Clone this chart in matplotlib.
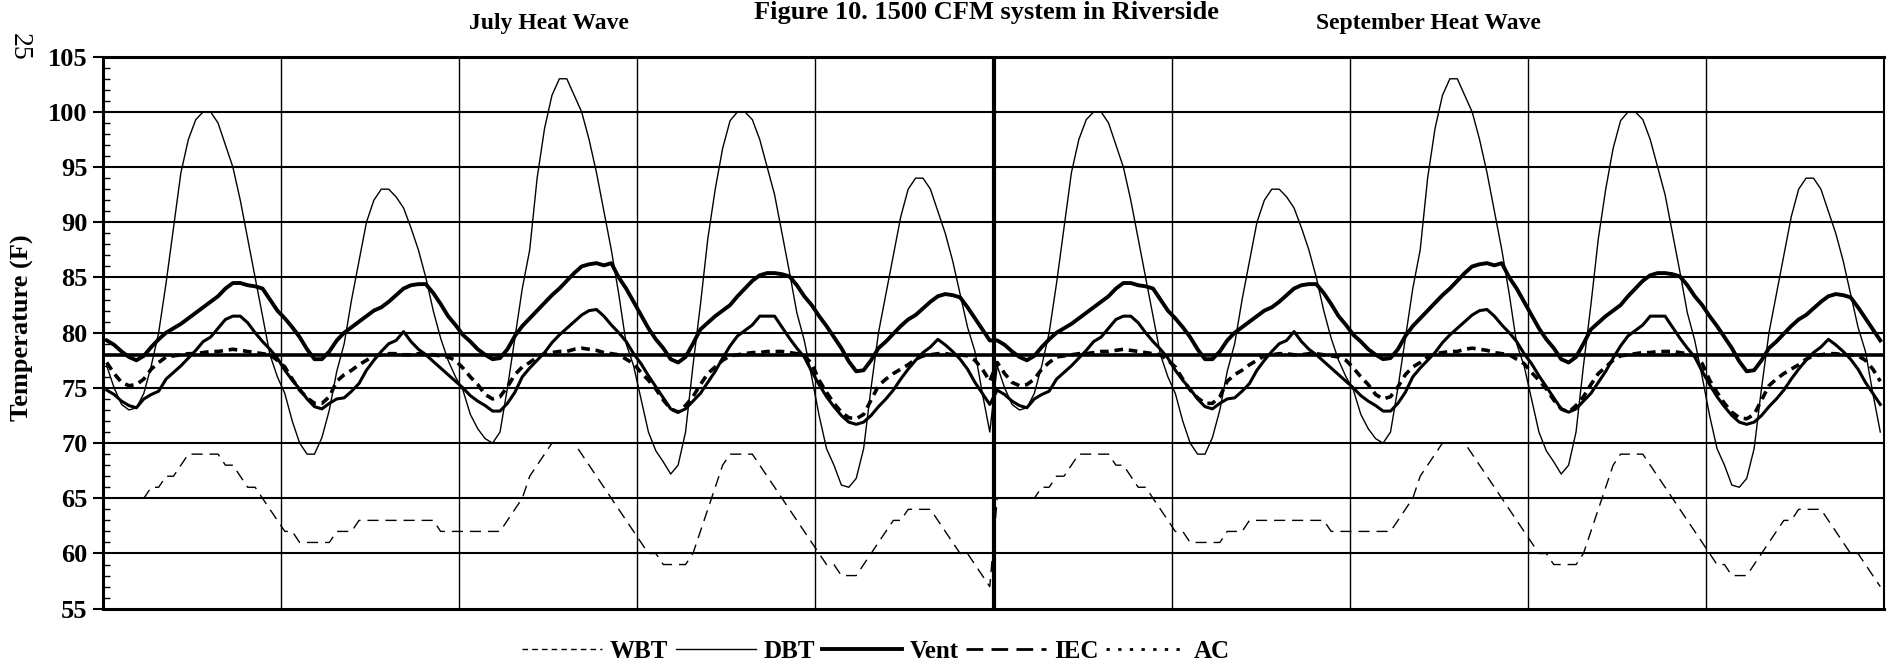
import numpy as np
import matplotlib
matplotlib.use("Agg")
import matplotlib.pyplot as plt
from matplotlib.lines import Line2D

plt.rcParams['font.family'] = ['Liberation Serif', 'DejaVu Serif']

# ---------------- data (hourly) ----------------
title = "Figure 10. 1500 CFM system in Riverside"
wave_labels = ["July Heat Wave", "September Heat Wave"]
y_ticks = [55, 60, 65, 70, 75, 80, 85, 90, 95, 100, 105]
setpoint = 78

july_dbt = [77, 75, 73.5, 73, 73.2, 74.5, 77, 80, 84.5, 89.5, 94.5, 97.5, 99.3, 100, 100, 99, 97, 95, 92, 88.5, 85, 81.5, 78, 76,
            74.5, 72, 70, 69, 69, 70.5, 73, 76.5, 79, 83, 86.5, 90, 92, 93, 93, 92.3, 91.3, 89.5, 87.5, 85, 82, 79.5, 77.5, 76,
            74.8, 72.6, 71.3, 70.4, 70, 71, 75, 79.5, 84, 87.5, 94, 98.5, 101.5, 103, 103, 101.5, 100, 97.5, 94.5, 91, 87.5, 83.5, 79, 77,
            74, 71, 69.3, 68.3, 67.2, 68, 71, 77, 82.5, 88.5, 93, 96.7, 99.2, 100, 100, 99.3, 97.5, 95, 92.5, 89, 85.5, 81.8, 79.3, 76,
            72.5, 69.5, 68, 66.2, 66, 66.8, 69.5, 75, 80, 83.5, 87, 90.5, 93, 94, 94, 93, 91, 89, 86.5, 83.5, 80.5, 78.3, 74.5, 71]
july_wbt = [65, 65, 65, 65, 65, 65, 66, 66, 67, 67, 68, 69, 69, 69, 69, 69, 68, 68, 67, 66, 66, 65, 64, 63,
            62, 62, 61, 61, 61, 61, 61, 62, 62, 62, 63, 63, 63, 63, 63, 63, 63, 63, 63, 63, 63, 62, 62, 62,
            62, 62, 62, 62, 62, 62, 63, 64, 65, 67, 68, 69, 70, 70, 70, 70, 69, 68, 67, 66, 65, 64, 63, 62,
            61, 60, 60, 59, 59, 59, 59, 60, 62, 64, 66, 68, 69, 69, 69, 69, 68, 67, 66, 65, 64, 63, 62, 61,
            60, 59, 59, 58, 58, 58, 59, 60, 61, 62, 63, 63, 64, 64, 64, 64, 63, 62, 61, 60, 60, 59, 58, 57]
july_vent = [79.3, 78.9, 78.3, 77.8, 77.5, 77.9, 78.7, 79.4, 80, 80.4, 80.8, 81.3, 81.8, 82.3, 82.8, 83.3, 84, 84.5, 84.5, 84.3, 84.2, 84, 83, 82,
             81.3, 80.5, 79.6, 78.5, 77.6, 77.6, 78.3, 79.3, 80, 80.5, 81, 81.5, 82, 82.3, 82.8, 83.4, 84, 84.3, 84.4, 84.4, 83.6, 82.6, 81.5, 80.7,
             79.8, 79.2, 78.5, 78, 77.6, 77.7, 78.5, 79.7, 80.6, 81.3, 82, 82.7, 83.4, 84, 84.7, 85.4, 86, 86.2, 86.3, 86.1, 86.3, 85, 84, 82.8,
             81.6, 80.4, 79.4, 78.6, 77.6, 77.3, 77.8, 79, 80.3, 80.9, 81.5, 82, 82.5, 83.3, 84, 84.7, 85.2, 85.4, 85.4, 85.3, 85.1, 84.3, 83.3, 82.5,
             81.5, 80.6, 79.6, 78.6, 77.4, 76.5, 76.6, 77.5, 78.6, 79.2, 79.9, 80.6, 81.2, 81.6, 82.2, 82.8, 83.3, 83.5, 83.4, 83.2, 82.3, 81.3, 80.3, 79.3]
july_iec = [74.8, 74.4, 73.8, 73.4, 73.2, 74, 74.4, 74.7, 75.8, 76.4, 77, 77.7, 78.4, 79.2, 79.6, 80.4, 81.2, 81.5, 81.5, 80.9, 80, 79.2, 78.5, 77.7,
            76.6, 75.7, 74.9, 74, 73.3, 73.1, 73.6, 74, 74.1, 74.7, 75.4, 76.6, 77.5, 78.3, 79, 79.3, 80.1, 79.2, 78.5, 78, 77.4, 76.8, 76.2, 75.6,
            75, 74.3, 73.8, 73.4, 72.9, 72.9, 73.6, 74.6, 76, 76.8, 77.5, 78.2, 79.1, 79.8, 80.4, 81, 81.6, 82, 82.1, 81.5, 80.7, 80, 79.2, 78.1,
            77.2, 76.1, 75.1, 74.1, 73.1, 72.8, 73.1, 73.8, 74.5, 75.5, 76.5, 77.7, 78.8, 79.7, 80.2, 80.7, 81.5, 81.5, 81.5, 80.5, 79.5, 78.6, 77.8, 76.5,
            75.3, 74.2, 73.3, 72.5, 71.9, 71.7, 71.9, 72.5, 73.3, 74, 74.8, 75.8, 76.7, 77.5, 78.2, 78.7, 79.4, 78.9, 78.3, 77.6, 76.7, 75.5, 74.5, 73.5]
july_ac = [77.3, 76.3, 75.5, 75.2, 75.3, 75.8, 76.7, 77.3, 77.8, 77.9, 78, 78.1, 78.1, 78.2, 78.3, 78.3, 78.4, 78.5, 78.4, 78.3, 78.2, 78.1, 78, 77.5,
           76.9, 75.8, 74.8, 74.1, 73.6, 73.6, 74.2, 75.6, 76.2, 76.6, 77.1, 77.5, 77.9, 78, 78.1, 78.1, 78, 78, 78.1, 78.1, 78, 77.9, 77.8, 77.5,
           76.8, 76, 75.3, 74.4, 74, 74.2, 75.1, 76.2, 76.9, 77.3, 77.8, 78.1, 78.2, 78.3, 78.3, 78.5, 78.6, 78.5, 78.4, 78.2, 78.1, 78, 77.6, 77.2,
           76.4, 75.7, 74.9, 73.9, 73.1, 72.8, 73.4, 74.2, 75.3, 76.3, 76.9, 77.5, 77.9, 78, 78.1, 78.2, 78.2, 78.3, 78.3, 78.3, 78.2, 78.1, 77.9, 77.2,
           75.7, 74.6, 73.6, 72.8, 72.3, 72.2, 72.6, 73.9, 75.2, 75.8, 76.3, 76.7, 77.1, 77.6, 77.9, 78, 78.1, 78.1, 78, 78, 77.9, 77.5, 76.7, 75.6]

# The September heat wave in the figure repeats the July profiles
sept_dbt = list(july_dbt)
sept_wbt = list(july_wbt)
sept_vent = list(july_vent)
sept_iec = list(july_iec)
sept_ac = list(july_ac)

dbt = july_dbt + sept_dbt
wbt = july_wbt + sept_wbt
vent = july_vent + sept_vent
iec = july_iec + sept_iec
ac = july_ac + sept_ac

# ---------------- figure ----------------
W, H = 1895, 665
fig = plt.figure(figsize=(W / 100, H / 100), dpi=100)
L, R, T, B = 103, 1884, 56.7, 608.7
ax = fig.add_axes([L / W, 1 - B / H, (R - L) / W, (B - T) / H])

n = len(dbt)
x = np.arange(n) + 0.5
ax.set_xlim(0, n)
ax.set_ylim(55, 105)

# grid
for yv in y_ticks[1:-1]:
    ax.axhline(yv, color='black', lw=1.5, zorder=1)
for d in range(24, n, 24):
    ax.axvline(d, color='black', lw=3.0 if d == n // 2 else 1.0, zorder=1)
ax.axhline(setpoint, color='black', lw=2.6, zorder=2)

ax.plot(x, wbt, color='black', lw=1.0, dashes=(8, 5), zorder=3)
ax.plot(x, dbt, color='black', lw=1.0, zorder=3)
ax.plot(x, vent, color='black', lw=2.8, zorder=4)
ax.plot(x, iec, color='black', lw=2.2, zorder=4)
ax.plot(x, ac, color='black', lw=2.6, dashes=(2.4, 1.6), zorder=4)

ax.set_xticks([])
ax.set_yticks(y_ticks)
ax.set_yticks(np.arange(55, 106, 1), minor=True)
ax.tick_params(axis='y', which='major', direction='out', length=7, width=1.5,
               labelsize=19, pad=4)
ax.tick_params(axis='y', which='minor', direction='in', length=5, width=1.0)
for lab in ax.get_yticklabels():
    lab.set_fontweight('bold')
for s, lw in zip(['left', 'top', 'right', 'bottom'], [2.2, 2.2, 1.5, 2.2]):
    ax.spines[s].set_linewidth(lw)
    ax.spines[s].set_color('black')

fig.text(22 / W, 1 - 328 / H, "Temperature (F)", rotation=90, ha='center', va='center',
         fontsize=19, fontweight='bold')
fig.text(986 / W, 1 - 13 / H, title, ha='center', va='center', fontsize=19, fontweight='bold')
fig.text(549 / W, 1 - 23 / H, wave_labels[0], ha='center', va='center', fontsize=17, fontweight='bold')
fig.text(1428 / W, 1 - 24 / H, wave_labels[1], ha='center', va='center', fontsize=17, fontweight='bold')
fig.text(19 / W, 1 - 47 / H, "25", rotation=-90, ha='center', va='center', fontsize=20)

handles = [
    Line2D([], [], color='black', lw=1.0, dashes=(4, 3)),
    Line2D([], [], color='black', lw=1.0),
    Line2D([], [], color='black', lw=2.8),
    Line2D([], [], color='black', lw=2.0, dashes=(6, 3)),
    Line2D([], [], color='black', lw=2.0, dashes=(1.2, 3)),
]
labels = ["WBT", "DBT", "Vent", "IEC", "AC"]
leg = fig.legend(handles, labels, loc='center', bbox_to_anchor=(876 / W, 1 - 651 / H), ncol=5,
                 frameon=False, handlelength=3.2, handletextpad=0.3, columnspacing=0.3,
                 prop={'weight': 'bold', 'size': 18})

fig.savefig("out.png", dpi=100)
